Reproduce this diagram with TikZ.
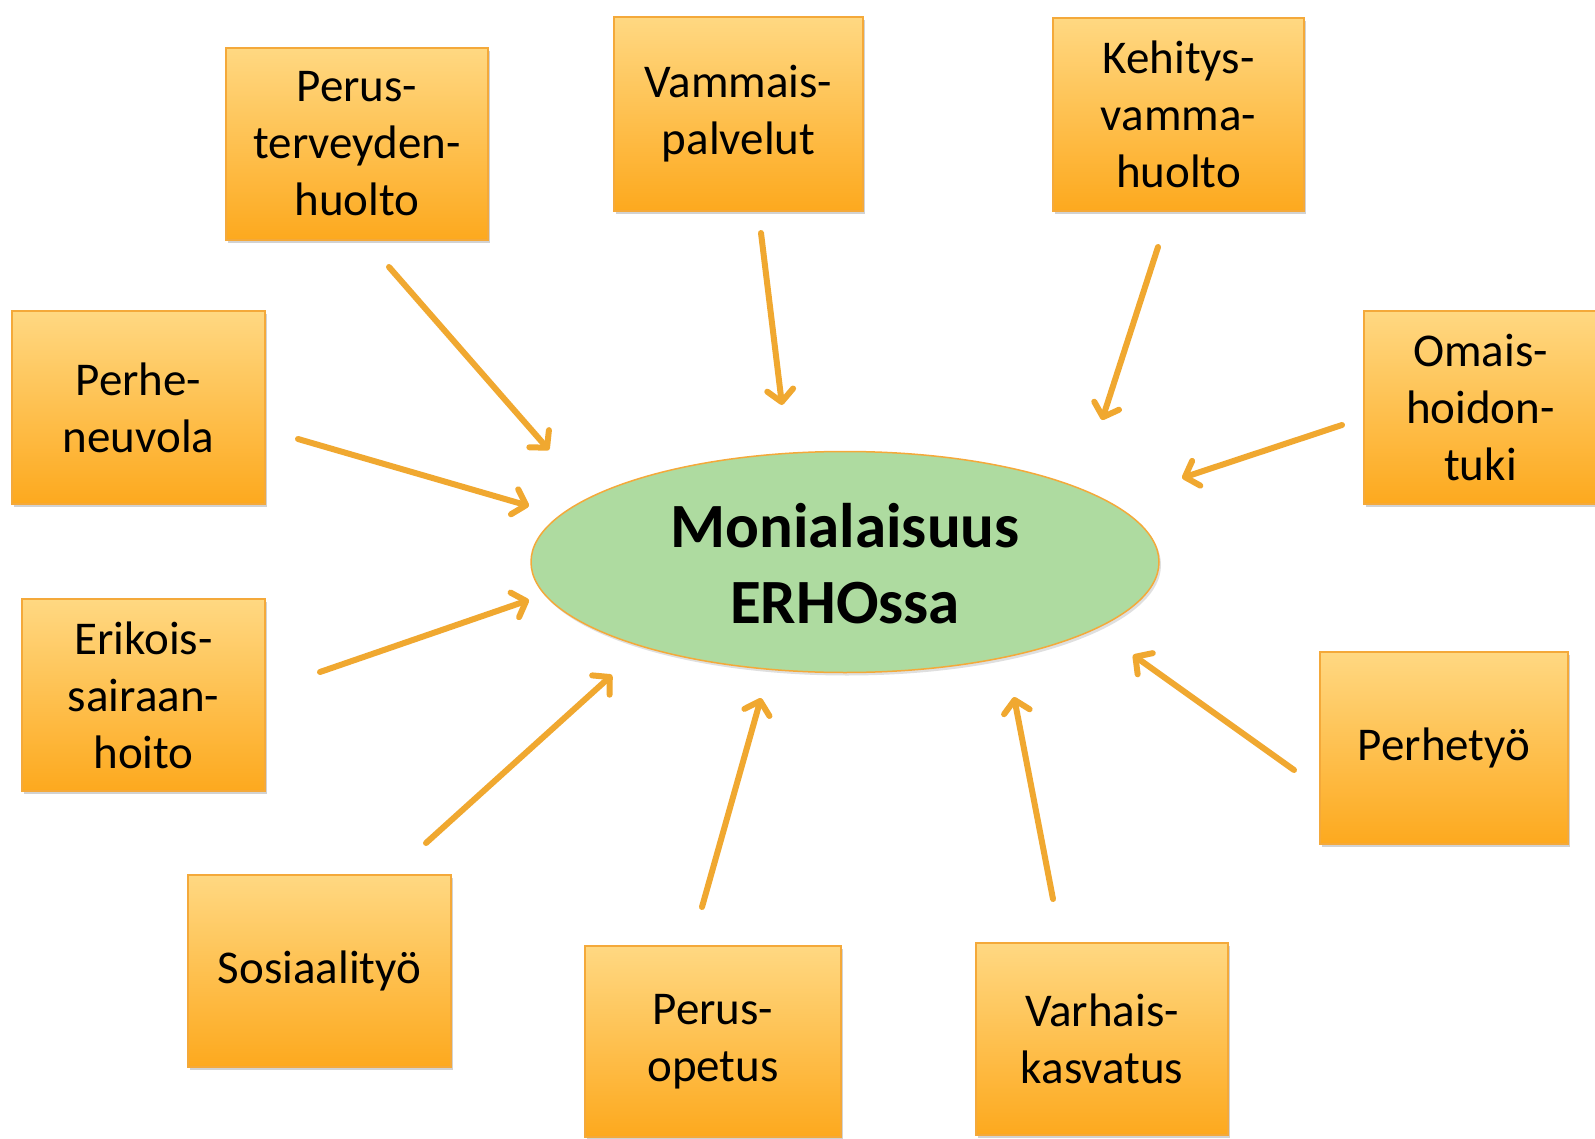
\documentclass[tikz,border=0pt]{standalone}
\usepackage{fontspec}
\setmainfont{Carlito}
\usetikzlibrary{arrows.meta,shadows,shapes.geometric}
\definecolor{boxtop}{HTML}{FFD882}
\definecolor{boxbot}{HTML}{FDA91E}
\definecolor{boxline}{HTML}{F4A93A}
\definecolor{arrowc}{HTML}{F0A830}
\definecolor{ellfill}{HTML}{AEDBA0}
\tikzset{
  box/.style={rectangle, draw=boxline, line width=1.2pt, top color=boxtop, bottom color=boxbot,
    align=center, inner sep=0pt, font=\fontsize{47}{57}\selectfont,
    drop shadow={opacity=0.35, shadow xshift=2pt, shadow yshift=-3pt}},
  arr/.style={draw=arrowc, line width=6pt, line cap=round,
    -{Straight Barb[length=12pt,width=26pt,round]}},
}
\begin{document}
\begin{tikzpicture}[x=1pt,y=-1pt]
\useasboundingbox (0,0) rectangle (1595,1139);
\fill[white] (0,0) rectangle (1595,1139);
\begin{scope}
\clip (0,0) rectangle (1595,1139);
\node[ellipse, draw=boxline, line width=1.5pt, fill=ellfill, minimum width=628pt, minimum height=221pt,
  drop shadow={opacity=0.25, shadow xshift=2pt, shadow yshift=-3pt}] (c) at (845,562) {};
\node[font=\fontsize{63}{76}\selectfont\bfseries, align=center] (ct) at (845,564) {Monialaisuus\\ERHOssa};

\node[box, minimum width=262pt, minimum height=192pt] (b1) at (357,144) {Perus-\\terveyden-\\huolto};
\node[box, minimum width=249pt, minimum height=194pt] (b2) at (738.5,114) {Vammais-\\palvelut};
\node[box, minimum width=251pt, minimum height=193pt] (b3) at (1178.5,114.5) {Kehitys-\\vamma-\\huolto};
\node[box, minimum width=233pt, minimum height=193pt] (b4) at (1480.5,407.5) {Omais-\\hoidon-\\tuki};
\node[box, minimum width=253pt, minimum height=193pt] (b5) at (138.5,407.5) {Perhe-\\neuvola};
\node[box, minimum width=243pt, minimum height=192pt] (b6) at (143.5,695) {Erikois-\\sairaan-\\hoito};
\node[box, minimum width=263pt, minimum height=192pt] (b7) at (319.5,971) {Sosiaality\"o};
\node[box, minimum width=256pt, minimum height=191pt] (b8) at (713,1041.5) {Perus-\\opetus};
\node[box, minimum width=252pt, minimum height=192pt] (b9) at (1102,1039) {Varhais-\\kasvatus};
\node[box, minimum width=248pt, minimum height=192pt] (b10) at (1444,748) {Perhety\"o};
\end{scope}

\coordinate (s1) at (389,267);   \coordinate (e1) at (549,450);
\coordinate (s2) at (761,233);   \coordinate (e2) at (782,405);
\coordinate (s3) at (1158,247);  \coordinate (e3) at (1102,420);
\coordinate (s4) at (1342,425);  \coordinate (e4) at (1182,478);
\coordinate (s5) at (298,439);   \coordinate (e5) at (529,506);
\coordinate (s6) at (320,672);   \coordinate (e6) at (529,600);
\coordinate (s7) at (426,843);   \coordinate (e7) at (612,675);
\coordinate (s8) at (702,907);   \coordinate (e8) at (761,698);
\coordinate (s9) at (1053,899);  \coordinate (e9) at (1014,697);
\coordinate (s10) at (1294,770); \coordinate (e10) at (1133,655);
\foreach \i in {1,...,10} { \draw[arr] (s\i) -- (e\i); }
\end{tikzpicture}
\end{document}
